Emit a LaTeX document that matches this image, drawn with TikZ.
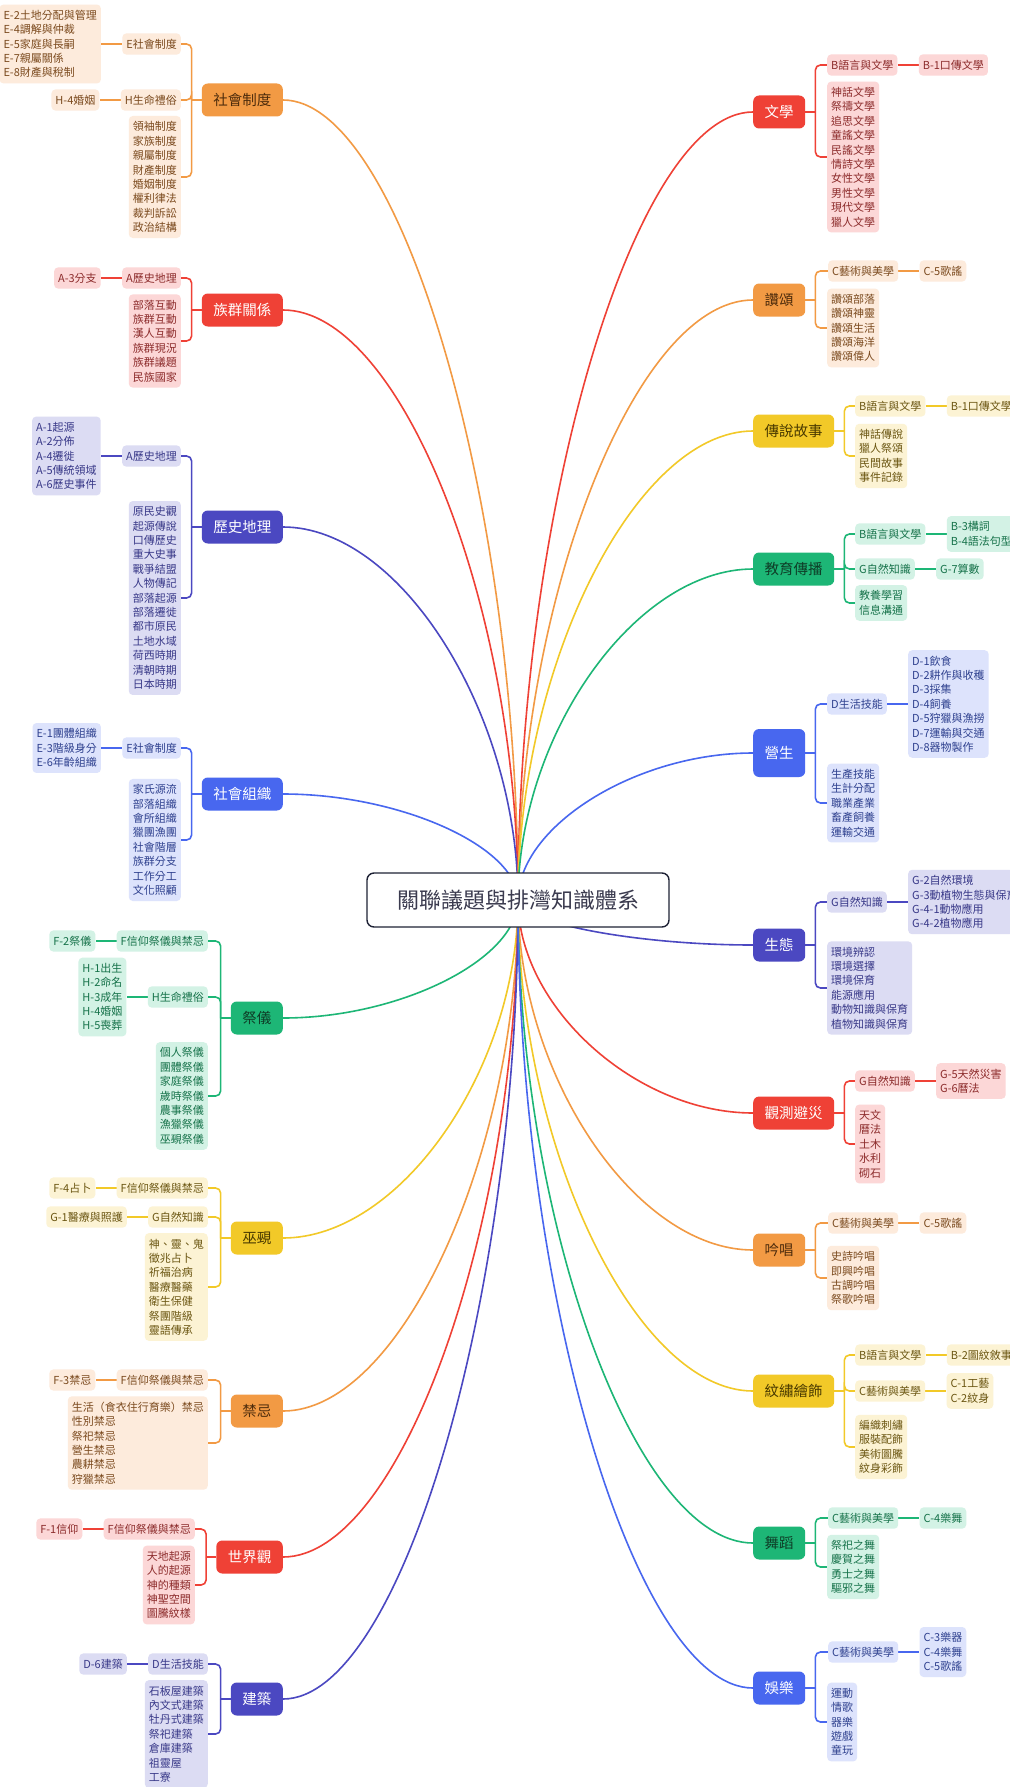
\documentclass[tikz,border=0pt]{standalone}
\usepackage{fontspec}
\setmainfont{Noto Sans CJK TC}
\usetikzlibrary{positioning,calc}
\pgfdeclarelayer{bg}
\pgfsetlayers{bg,main}

\definecolor{orgM}{HTML}{F29A44}\definecolor{orgL}{HTML}{FDEBDC}\definecolor{orgT}{HTML}{7B4A1E}\definecolor{orgX}{HTML}{4E2C0C}
\definecolor{redM}{HTML}{EF4136}\definecolor{redL}{HTML}{FCD7D7}\definecolor{redT}{HTML}{8C2B2B}\definecolor{redX}{HTML}{FFFFFF}
\definecolor{indM}{HTML}{4B48C1}\definecolor{indL}{HTML}{DCDCF3}\definecolor{indT}{HTML}{383888}\definecolor{indX}{HTML}{FFFFFF}
\definecolor{bluM}{HTML}{4867EF}\definecolor{bluL}{HTML}{DDE3FC}\definecolor{bluT}{HTML}{2F418F}\definecolor{bluX}{HTML}{FFFFFF}
\definecolor{grnM}{HTML}{1DB676}\definecolor{grnL}{HTML}{D3F2E5}\definecolor{grnT}{HTML}{16724A}\definecolor{grnX}{HTML}{0E3D27}
\definecolor{yelM}{HTML}{F2C928}\definecolor{yelL}{HTML}{FCF3D4}\definecolor{yelT}{HTML}{6B5612}\definecolor{yelX}{HTML}{4A3A00}
\definecolor{rootB}{HTML}{1E2235}\definecolor{rootT}{HTML}{3B3B4F}

\tikzset{
  topic/.style={fill=#1M, text=#1X, rounded corners=6pt, minimum height=33pt, inner xsep=11.5pt, font=\fontsize{14.5}{17}\selectfont},
  sub/.style={fill=#1L, text=#1T, rounded corners=4pt, inner xsep=4pt, inner ysep=5.5pt, align=left, font=\fontsize{11}{14.4}\selectfont},
  wire/.style={draw=#1M, line width=1.6pt},
  hub/.style={draw=rootB, line width=1.4pt, fill=white, rounded corners=7pt, minimum width=302pt, minimum height=54pt, text=rootT, font=\fontsize{22}{26}\selectfont}
}

\begin{document}
\begin{tikzpicture}[x=1pt,y=-1pt]
\useasboundingbox (0,0) rectangle (1009,1787);

\node[hub] (root) at (518,900) {關聯議題與排灣知識體系};

% left side
\node[topic=org, anchor=east] (shzd) at (283,100) {社會制度};
\node[sub=org, anchor=east] (shzd-1) at (181,44) {E社會制度};
\node[sub=org, left=21pt of shzd-1] (shzd-1-k) {E-2土地分配與管理\\E-4調解與仲裁\\E-5家庭與長嗣\\E-7親屬關係\\E-8財產與稅制};
\node[sub=org, anchor=east] (shzd-2) at (181,100) {H生命禮俗};
\node[sub=org, left=21pt of shzd-2] (shzd-2-k) {H-4婚姻};
\node[sub=org, anchor=east] (shzd-3) at (181,177) {領袖制度\\家族制度\\親屬制度\\財產制度\\婚姻制度\\權利律法\\裁判訴訟\\政治結構};

\node[topic=red, anchor=east] (zqgx) at (283,310) {族群關係};
\node[sub=red, anchor=east] (zqgx-1) at (181,278) {A歷史地理};
\node[sub=red, left=21pt of zqgx-1] (zqgx-1-k) {A-3分支};
\node[sub=red, anchor=east] (zqgx-2) at (181,341) {部落互動\\族群互動\\漢人互動\\族群現況\\族群議題\\民族國家};

\node[topic=ind, anchor=east] (lsdl) at (283,527) {歷史地理};
\node[sub=ind, anchor=east] (lsdl-1) at (181,456) {A歷史地理};
\node[sub=ind, left=21pt of lsdl-1] (lsdl-1-k) {A-1起源\\A-2分佈\\A-4遷徙\\A-5傳統領域\\A-6歷史事件};
\node[sub=ind, anchor=east] (lsdl-2) at (181,598) {原民史觀\\起源傳說\\口傳歷史\\重大史事\\戰爭結盟\\人物傳記\\部落起源\\部落遷徙\\都市原民\\土地水域\\荷西時期\\清朝時期\\日本時期};

\node[topic=blu, anchor=east] (shzz) at (283,794) {社會組織};
\node[sub=blu, anchor=east] (shzz-1) at (181,748) {E社會制度};
\node[sub=blu, left=21pt of shzz-1] (shzz-1-k) {E-1團體組織\\E-3階級身分\\E-6年齡組織};
\node[sub=blu, anchor=east] (shzz-2) at (181,840) {家氏源流\\部落組織\\會所組織\\獵團漁團\\社會階層\\族群分支\\工作分工\\文化照顧};

\node[topic=grn, anchor=east] (jiyi) at (283,1018) {祭儀};
\node[sub=grn, anchor=east] (jiyi-1) at (208,941) {F信仰祭儀與禁忌};
\node[sub=grn, left=21pt of jiyi-1] (jiyi-1-k) {F-2祭儀};
\node[sub=grn, anchor=east] (jiyi-2) at (208,997) {H生命禮俗};
\node[sub=grn, left=21pt of jiyi-2] (jiyi-2-k) {H-1出生\\H-2命名\\H-3成年\\H-4婚姻\\H-5喪葬};
\node[sub=grn, anchor=east] (jiyi-3) at (208,1096) {個人祭儀\\團體祭儀\\家庭祭儀\\歲時祭儀\\農事祭儀\\漁獵祭儀\\巫覡祭儀};

\node[topic=yel, anchor=east] (wuxi) at (283,1238) {巫覡};
\node[sub=yel, anchor=east] (wuxi-1) at (208,1188) {F信仰祭儀與禁忌};
\node[sub=yel, left=21pt of wuxi-1] (wuxi-1-k) {F-4占卜};
\node[sub=yel, anchor=east] (wuxi-2) at (208,1217) {G自然知識};
\node[sub=yel, left=21pt of wuxi-2] (wuxi-2-k) {G-1醫療與照護};
\node[sub=yel, anchor=east] (wuxi-3) at (208,1287) {神、靈、鬼\\徵兆占卜\\祈福治病\\醫療醫藥\\衛生保健\\祭團階級\\靈語傳承};

\node[topic=org, anchor=east] (jinj) at (283,1411) {禁忌};
\node[sub=org, anchor=east] (jinj-1) at (208,1380) {F信仰祭儀與禁忌};
\node[sub=org, left=21pt of jinj-1] (jinj-1-k) {F-3禁忌};
\node[sub=org, anchor=east] (jinj-2) at (208,1443) {生活（食衣住行育樂）禁忌\\性別禁忌\\祭祀禁忌\\營生禁忌\\農耕禁忌\\狩獵禁忌};

\node[topic=red, anchor=east] (sjg) at (283,1557) {世界觀};
\node[sub=red, anchor=east] (sjg-1) at (195,1529) {F信仰祭儀與禁忌};
\node[sub=red, left=21pt of sjg-1] (sjg-1-k) {F-1信仰};
\node[sub=red, anchor=east] (sjg-2) at (195,1585) {天地起源\\人的起源\\神的種類\\神聖空間\\圖騰紋樣};

\node[topic=ind, anchor=east] (jianz) at (283,1699) {建築};
\node[sub=ind, anchor=east] (jianz-1) at (208,1664) {D生活技能};
\node[sub=ind, left=21pt of jianz-1] (jianz-1-k) {D-6建築};
\node[sub=ind, anchor=east] (jianz-2) at (208,1734) {石板屋建築\\內文式建築\\牡丹式建築\\祭祀建築\\倉庫建築\\祖靈屋\\工寮};

% right side
\node[topic=red, anchor=west] (wenx) at (753,112) {文學};
\node[sub=red, anchor=west] (wenx-1) at (827,65) {B語言與文學};
\node[sub=red, right=21pt of wenx-1] (wenx-1-k) {B-1口傳文學};
\node[sub=red, anchor=west] (wenx-2) at (827,157) {神話文學\\祭禱文學\\追思文學\\童謠文學\\民謠文學\\情詩文學\\女性文學\\男性文學\\現代文學\\獵人文學};

\node[topic=org, anchor=west] (zans) at (753,300) {讚頌};
\node[sub=org, anchor=west] (zans-1) at (828,271) {C藝術與美學};
\node[sub=org, right=21pt of zans-1] (zans-1-k) {C-5歌謠};
\node[sub=org, anchor=west] (zans-2) at (827,328) {讚頌部落\\讚頌神靈\\讚頌生活\\讚頌海洋\\讚頌偉人};

\node[topic=yel, anchor=west] (cssh) at (753,431) {傳說故事};
\node[sub=yel, anchor=west] (cssh-1) at (855,406) {B語言與文學};
\node[sub=yel, right=21pt of cssh-1] (cssh-1-k) {B-1口傳文學};
\node[sub=yel, anchor=west] (cssh-2) at (855,456) {神話傳說\\獵人祭頌\\民間故事\\事件記錄};

\node[topic=grn, anchor=west] (jycb) at (753,569) {教育傳播};
\node[sub=grn, anchor=west] (jycb-1) at (855,534) {B語言與文學};
\node[sub=grn, right=21pt of jycb-1] (jycb-1-k) {B-3構詞\\B-4語法句型};
\node[sub=grn, anchor=west] (jycb-2) at (855,569) {G自然知識};
\node[sub=grn, right=21pt of jycb-2] (jycb-2-k) {G-7算數};
\node[sub=grn, anchor=west] (jycb-3) at (855,603) {教養學習\\信息溝通};

\node[topic=blu, anchor=west, minimum height=48pt] (ysh) at (753,753) {營生};
\node[sub=blu, anchor=west] (ysh-1) at (827,704) {D生活技能};
\node[sub=blu, right=21pt of ysh-1] (ysh-1-k) {D-1飲食\\D-2耕作與收穫\\D-3採集\\D-4飼養\\D-5狩獵與漁撈\\D-7運輸與交通\\D-8器物製作};
\node[sub=blu, anchor=west] (ysh-2) at (827,803) {生產技能\\生計分配\\職業產業\\畜產飼養\\運輸交通};

\node[topic=ind, anchor=west] (st) at (753,945) {生態};
\node[sub=ind, anchor=west] (st-1) at (827,902) {G自然知識};
\node[sub=ind, right=21pt of st-1] (st-1-k) {G-2自然環境\\G-3動植物生態與保育\\G-4-1動物應用\\G-4-2植物應用};
\node[sub=ind, anchor=west] (st-2) at (827,988) {環境辨認\\環境選擇\\環境保育\\能源應用\\動物知識與保育\\植物知識與保育};

\node[topic=red, anchor=west] (gcbz) at (753,1113) {觀測避災};
\node[sub=red, anchor=west] (gcbz-1) at (855,1081) {G自然知識};
\node[sub=red, right=21pt of gcbz-1] (gcbz-1-k) {G-5天然災害\\G-6曆法};
\node[sub=red, anchor=west] (gcbz-2) at (855,1144) {天文\\曆法\\土木\\水利\\砌石};

\node[topic=org, anchor=west] (yc) at (753,1250) {吟唱};
\node[sub=org, anchor=west] (yc-1) at (828,1223) {C藝術與美學};
\node[sub=org, right=21pt of yc-1] (yc-1-k) {C-5歌謠};
\node[sub=org, anchor=west] (yc-2) at (827,1278) {史詩吟唱\\即興吟唱\\古調吟唱\\祭歌吟唱};

\node[topic=yel, anchor=west] (wxhs) at (753,1391) {紋繡繪飾};
\node[sub=yel, anchor=west] (wxhs-1) at (855,1355) {B語言與文學};
\node[sub=yel, right=21pt of wxhs-1] (wxhs-1-k) {B-2圖紋敘事};
\node[sub=yel, anchor=west] (wxhs-2) at (855,1391) {C藝術與美學};
\node[sub=yel, right=21pt of wxhs-2] (wxhs-2-k) {C-1工藝\\C-2紋身};
\node[sub=yel, anchor=west] (wxhs-3) at (855,1447) {編織刺繡\\服裝配飾\\美術圖騰\\紋身彩飾};

\node[topic=grn, anchor=west] (wd) at (753,1543) {舞蹈};
\node[sub=grn, anchor=west] (wd-1) at (828,1518) {C藝術與美學};
\node[sub=grn, right=21pt of wd-1] (wd-1-k) {C-4樂舞};
\node[sub=grn, anchor=west] (wd-2) at (827,1567) {祭祀之舞\\慶賀之舞\\勇士之舞\\驅邪之舞};

\node[topic=blu, anchor=west] (yl) at (753,1688) {娛樂};
\node[sub=blu, anchor=west] (yl-1) at (828,1652) {C藝術與美學};
\node[sub=blu, right=21pt of yl-1] (yl-1-k) {C-3樂器\\C-4樂舞\\C-5歌謠};
\node[sub=blu, anchor=west] (yl-2) at (827,1722) {運動\\情歌\\器樂\\遊戲\\童玩};

\begin{pgfonlayer}{bg}
\fill[white] (0,0) rectangle (1009,1787);
% root to topics
\foreach \m/\c in {shzd/org, zqgx/red, lsdl/ind, shzz/blu, jiyi/grn, wuxi/yel, jinj/org, sjg/red, jianz/ind}
  \draw[wire=\c] (\m.east) .. controls ($(\m.east)!.5!(root.center |- \m.east)$) and ($(root.center)!.5!(root.center |- \m.east)$) .. (root.center);
\foreach \m/\c in {wenx/red, zans/org, cssh/yel, jycb/grn, ysh/blu, st/ind, gcbz/red, yc/org, wxhs/yel, wd/grn, yl/blu}
  \draw[wire=\c] (\m.west) .. controls ($(\m.west)!.5!(root.center |- \m.west)$) and ($(root.center)!.5!(root.center |- \m.west)$) .. (root.center);
% topics to subs
\foreach \m/\s/\c in {shzd/shzd-1/org, shzd/shzd-2/org, shzd/shzd-3/org, zqgx/zqgx-1/red, zqgx/zqgx-2/red,
    lsdl/lsdl-1/ind, lsdl/lsdl-2/ind, shzz/shzz-1/blu, shzz/shzz-2/blu,
    jiyi/jiyi-1/grn, jiyi/jiyi-2/grn, jiyi/jiyi-3/grn, wuxi/wuxi-1/yel, wuxi/wuxi-2/yel, wuxi/wuxi-3/yel,
    jinj/jinj-1/org, jinj/jinj-2/org, sjg/sjg-1/red, sjg/sjg-2/red, jianz/jianz-1/ind, jianz/jianz-2/ind} {
  \draw[wire=\c] (\m.west) -- ++(-10,0);
  \draw[wire=\c, rounded corners=5pt] ($(\m.west)+(-10,0)$) |- (\s.east);
}
\foreach \m/\s/\c in {wenx/wenx-1/red, wenx/wenx-2/red, zans/zans-1/org, zans/zans-2/org, cssh/cssh-1/yel, cssh/cssh-2/yel,
    jycb/jycb-1/grn, jycb/jycb-2/grn, jycb/jycb-3/grn, ysh/ysh-1/blu, ysh/ysh-2/blu, st/st-1/ind, st/st-2/ind,
    gcbz/gcbz-1/red, gcbz/gcbz-2/red, yc/yc-1/org, yc/yc-2/org, wxhs/wxhs-1/yel, wxhs/wxhs-2/yel, wxhs/wxhs-3/yel,
    wd/wd-1/grn, wd/wd-2/grn, yl/yl-1/blu, yl/yl-2/blu} {
  \draw[wire=\c] (\m.east) -- ++(10,0);
  \draw[wire=\c, rounded corners=5pt] ($(\m.east)+(10,0)$) |- (\s.west);
}
% subs to leaves
\foreach \s/\c in {shzd-1/org, shzd-2/org, zqgx-1/red, lsdl-1/ind, shzz-1/blu, jiyi-1/grn, jiyi-2/grn,
    wuxi-1/yel, wuxi-2/yel, jinj-1/org, sjg-1/red, jianz-1/ind}
  \draw[wire=\c] (\s.west) -- (\s-k.east);
\foreach \s/\c in {wenx-1/red, zans-1/org, cssh-1/yel, jycb-1/grn, jycb-2/grn, ysh-1/blu, st-1/ind,
    gcbz-1/red, yc-1/org, wxhs-1/yel, wxhs-2/yel, wd-1/grn, yl-1/blu}
  \draw[wire=\c] (\s.east) -- (\s-k.west);
\end{pgfonlayer}
\end{tikzpicture}
\end{document}
